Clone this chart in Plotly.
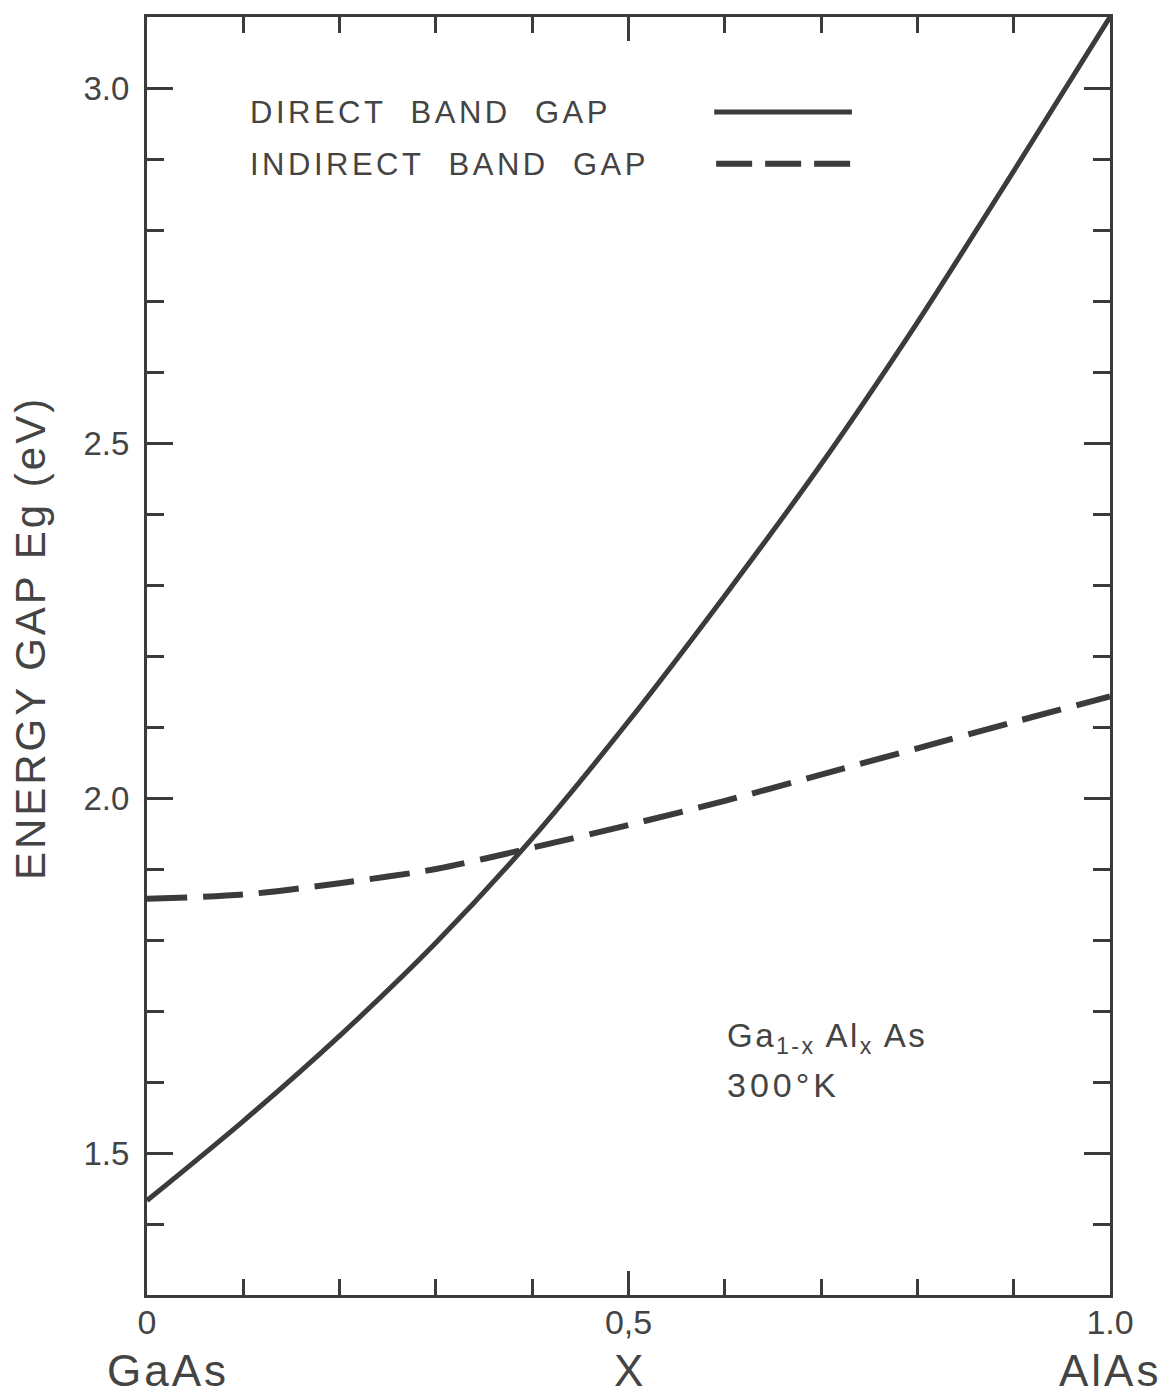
import plotly.graph_objects as go

# ---- data ----
x_frac = [0.0, 0.1, 0.2, 0.3, 0.4, 0.5, 0.6, 0.7, 0.8, 0.9, 1.0]
direct_gap = [1.433, 1.545, 1.665, 1.796, 1.943, 2.108, 2.285, 2.470, 2.670, 2.883, 3.100]
indirect_gap = [1.858, 1.864, 1.880, 1.900, 1.930, 1.962, 1.996, 2.033, 2.070, 2.107, 2.143]

x_tick_vals = [0.0, 0.5, 1.0]
x_tick_text = ["0", "0,5", "1.0"]
y_tick_vals = [1.5, 2.0, 2.5, 3.0]
y_tick_text = ["1.5", "2.0", "2.5", "3.0"]

INK = "#3b3b3b"
TXT = "#444444"
FONT = "Liberation Sans, Arial, sans-serif"


def spaced(s, ls):
    return '<span style="letter-spacing:%spx">%s</span>' % (ls, s)


fig = go.Figure()
fig.add_trace(go.Scatter(x=x_frac, y=direct_gap, mode="lines",
                         line=dict(color=INK, width=5, shape="spline", smoothing=0.8),
                         name="DIRECT BAND GAP", showlegend=False))
fig.add_trace(go.Scatter(x=x_frac, y=indirect_gap, mode="lines",
                         line=dict(color=INK, width=6, shape="spline", smoothing=0.8,
                                   dash="40px,16px"),
                         name="INDIRECT BAND GAP", showlegend=False))

axis_common = dict(showgrid=False, zeroline=False, showline=True, linecolor=INK,
                   linewidth=3, mirror="ticks", ticks="inside", tickcolor=INK,
                   tickwidth=2.5)

fig.update_xaxes(range=[0, 1.0], tickvals=x_tick_vals, ticktext=x_tick_text,
                 ticklen=24, tickfont=dict(family=FONT, size=34, color=TXT),
                 ticklabelstandoff=-5,
                 minor=dict(ticks="inside", dtick=0.1, tick0=0, ticklen=16,
                            tickcolor=INK, tickwidth=2.5),
                 **axis_common)
fig.update_yaxes(range=[1.3, 3.1], tickvals=y_tick_vals, ticktext=y_tick_text,
                 ticklen=26, tickfont=dict(family=FONT, size=33, color=TXT),
                 ticklabelstandoff=8,
                 minor=dict(ticks="inside", dtick=0.1, tick0=1.3, ticklen=17,
                            tickcolor=INK, tickwidth=2.5),
                 **axis_common)

annotations = [
    dict(text=spaced("DIRECT\u00a0\u00a0BAND\u00a0\u00a0GAP", 3.5), x=0.105, y=0.9255,
         xref="paper", yref="paper", xanchor="left", yanchor="middle", showarrow=False,
         font=dict(family=FONT, size=31, color=TXT)),
    dict(text=spaced("INDIRECT\u00a0\u00a0BAND\u00a0\u00a0GAP", 3.5), x=0.105, y=0.8849,
         xref="paper", yref="paper", xanchor="left", yanchor="middle", showarrow=False,
         font=dict(family=FONT, size=31, color=TXT)),
    dict(text=spaced("Ga<sub>1-x</sub> Al<sub>x</sub> As", 2.5), x=0.6, y=1.662, xref="x", yref="y",
         xanchor="left", yanchor="middle", showarrow=False,
         font=dict(family=FONT, size=33, color=TXT)),
    dict(text=spaced("300°K", 4), x=0.6, y=1.596, xref="x", yref="y",
         xanchor="left", yanchor="middle", showarrow=False,
         font=dict(family=FONT, size=34, color=TXT)),
    dict(text=spaced("ENERGY GAP Eg (eV)", 3), x=-0.1215, y=0.514, xref="paper", yref="paper",
         xanchor="center", yanchor="middle", textangle=-90, showarrow=False,
         font=dict(family=FONT, size=42, color=TXT)),
    dict(text=spaced("GaAs", 3), x=0.022, y=-0.0725, xref="paper", yref="paper",
         xanchor="center", yanchor="bottom", yshift=-9, showarrow=False,
         font=dict(family=FONT, size=44, color=TXT)),
    dict(text="X", x=0.5, y=-0.0725, xref="paper", yref="paper",
         xanchor="center", yanchor="bottom", yshift=-9, showarrow=False,
         font=dict(family=FONT, size=44, color=TXT)),
    dict(text=spaced("AlAs", 3), x=1.0, y=-0.0725, xref="paper", yref="paper",
         xanchor="center", yanchor="bottom", yshift=-9, showarrow=False,
         font=dict(family=FONT, size=44, color=TXT)),
]

shapes = [
    dict(type="line", xref="paper", yref="paper", x0=0.589, x1=0.732, y0=0.9257, y1=0.9257,
         line=dict(color=INK, width=5)),
    dict(type="line", xref="paper", yref="paper", x0=0.591, x1=0.732, y0=0.8851, y1=0.8851,
         line=dict(color=INK, width=6, dash="36px,13px")),
]

# page body adds an 8px margin, so the figure is sized/offset to compensate
fig.update_layout(width=1160, height=1380,
                  margin=dict(l=139, r=58, t=6, b=93),
                  paper_bgcolor="white", plot_bgcolor="white",
                  annotations=annotations, shapes=shapes, showlegend=False)

fig.write_html("out.html")
